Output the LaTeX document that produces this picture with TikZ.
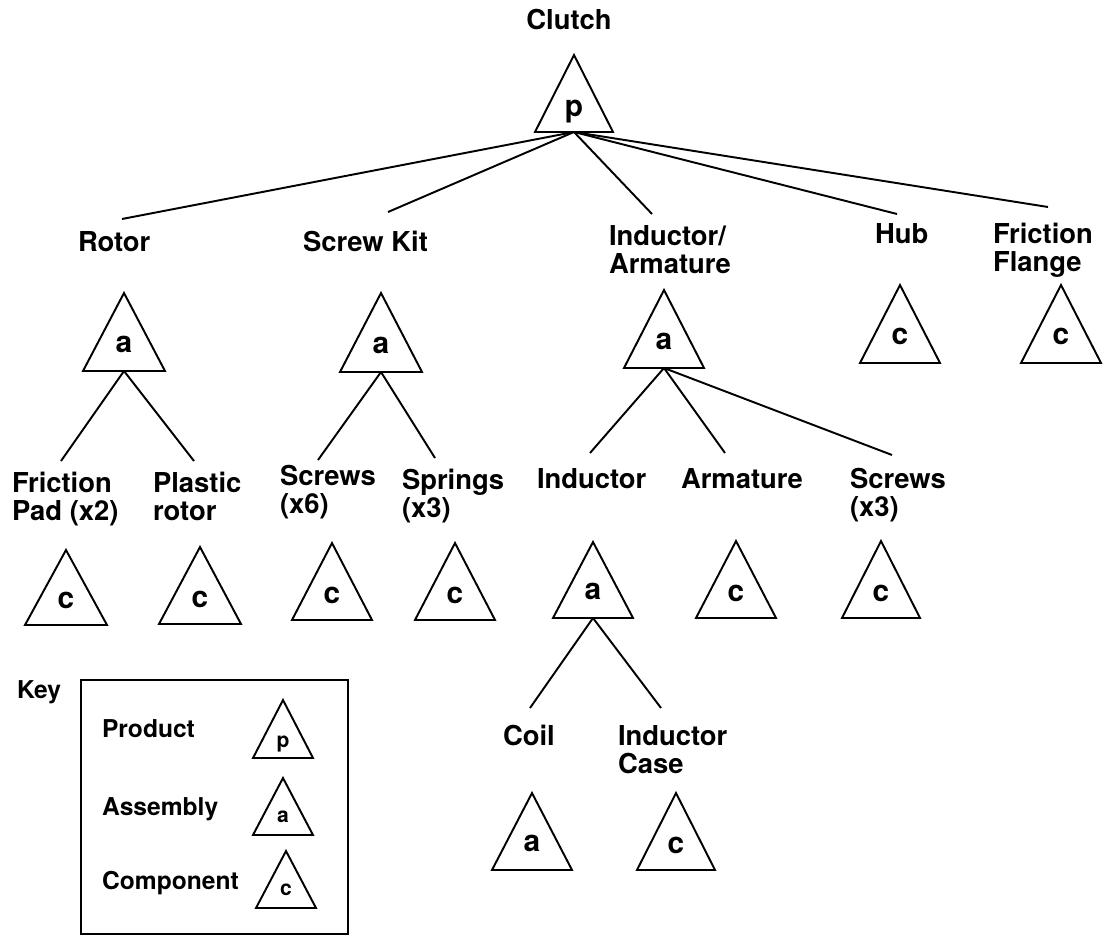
\documentclass[tikz,border=0pt]{standalone}
\usepackage{fontspec}
\setmainfont{TeX Gyre Heros}

% triangle symbol: name, centre x, apex y, base y, half width, letter, letter style, letter lift
\newcommand\parttri[8]{%
  \coordinate (#1-t) at (#2,#3);
  \coordinate (#1-b) at (#2,#4);
  \draw[tri] (#1-t) -- (#2+#5,#4) -- (#2-#5,#4) -- cycle;
  \node[#7] (#1-l) at (#2,#4-#8) {#6};
}

\begin{document}
\begin{tikzpicture}[x=0.02cm,y=-0.02cm,
  every node/.style={inner sep=0pt, outer sep=0pt},
  % multi-line labels are placed by the baseline of their last line
  lbl/.style={anchor=base west, align=left, font=\fontsize{15.6}{15.9}\selectfont\bfseries},
  keylbl/.style={anchor=base west, font=\fontsize{14}{16}\selectfont\bfseries},
  tri/.style={line width=1.1pt, line join=miter},
  link/.style={line width=1.1pt},
  trilet/.style={anchor=base, font=\fontsize{17}{17}\selectfont\bfseries},
  keylet/.style={anchor=base, font=\fontsize{12}{12}\selectfont\bfseries}]

\useasboundingbox (0,0) rectangle (1104,936);

% ---- product ----
\node[lbl, anchor=base] (clutch) at (569,30) {Clutch};
\parttri{clutchT}{574}{55}{132}{39}{p}{trilet}{16}

% ---- first level ----
\node[lbl] (rotor) at (78,251) {Rotor};
\node[lbl] (kit) at (303,251) {Screw Kit};
\node[lbl] (indarm) at (609,273) {Inductor/\\Armature};
\node[lbl] (hub) at (875,243) {Hub};
\node[lbl] (flange) at (993,271) {Friction\\Flange};

\coordinate (rotor-e) at (122,219);
\coordinate (kit-e) at (388,212);
\coordinate (indarm-e) at (652,214);
\coordinate (hub-e) at (897,214);
\coordinate (flange-e) at (1048,207);

\parttri{rotorT}{124}{293}{371}{41}{a}{trilet}{19}
\parttri{kitT}{381}{293}{372}{41}{a}{trilet}{19}
\parttri{indarmT}{664}{290}{368}{40}{a}{trilet}{19}
\parttri{hubT}{900}{285}{363}{40}{c}{trilet}{19}
\parttri{flangeT}{1061}{285}{363}{40}{c}{trilet}{19}

\foreach \e in {rotor-e,kit-e,indarm-e,hub-e,flange-e}
  \draw[link] (clutchT-b) -- (\e);

% ---- second level ----
\node[lbl] (pad) at (12,520) {Friction\\Pad (x2)};
\node[lbl] (plastic) at (153,520) {Plastic\\rotor};
\node[lbl] (screws6) at (280,513) {Screws\\(x6)};
\node[lbl] (springs) at (402,517) {Springs\\(x3)};
\node[lbl] (inductor) at (537,488) {Inductor};
\node[lbl] (armature) at (681,488) {Armature};
\node[lbl] (screws3) at (850,516) {Screws\\(x3)};

\coordinate (pad-e) at (61,461);
\coordinate (plastic-e) at (194,461);
\coordinate (screws6-e) at (318,460);
\coordinate (springs-e) at (435,458);
\coordinate (inductor-e) at (590,453);
\coordinate (armature-e) at (725,453);
\coordinate (screws3-e) at (892,455);

\draw[link] (rotorT-b) -- (pad-e);
\draw[link] (rotorT-b) -- (plastic-e);
\draw[link] (kitT-b) -- (screws6-e);
\draw[link] (kitT-b) -- (springs-e);
\draw[link] (indarmT-b) -- (inductor-e);
\draw[link] (indarmT-b) -- (armature-e);
\draw[link] (indarmT-b) -- (screws3-e);

\parttri{padT}{66}{550}{625}{41}{c}{trilet}{17}
\parttri{plasticT}{200}{547}{624}{41}{c}{trilet}{17}
\parttri{screws6T}{332}{543}{620}{40}{c}{trilet}{17}
\parttri{springsT}{455}{543}{620}{40}{c}{trilet}{17}
\parttri{inductorT}{593}{542}{618}{40}{a}{trilet}{19}
\parttri{armatureT}{736}{541}{618}{40}{c}{trilet}{17}
\parttri{screws3T}{881}{541}{618}{39}{c}{trilet}{17}

% ---- third level ----
\node[lbl] (coil) at (503,745) {Coil};
\node[lbl] (case) at (618,773) {Inductor\\Case};

\coordinate (coil-e) at (530,708);
\coordinate (case-e) at (661,708);
\draw[link] (inductorT-b) -- (coil-e);
\draw[link] (inductorT-b) -- (case-e);

\parttri{coilT}{532}{793}{870}{40}{a}{trilet}{19}
\parttri{caseT}{676}{793}{870}{39}{c}{trilet}{17}

% ---- key ----
\node[keylbl] (key) at (17,698) {Key};
\draw[line width=1.1pt] (81,680) rectangle (348,934);
\node[keylbl] (kprod) at (102,737) {Product};
\node[keylbl] (kasm) at (102,815) {Assembly};
\node[keylbl] (kcomp) at (102,889) {Component};
\parttri{kpT}{283}{700}{758}{30}{p}{keylet}{11}
\parttri{kaT}{283}{778}{835}{30}{a}{keylet}{13}
\parttri{kcT}{286}{851}{908}{30}{c}{keylet}{13}

\end{tikzpicture}
\end{document}
